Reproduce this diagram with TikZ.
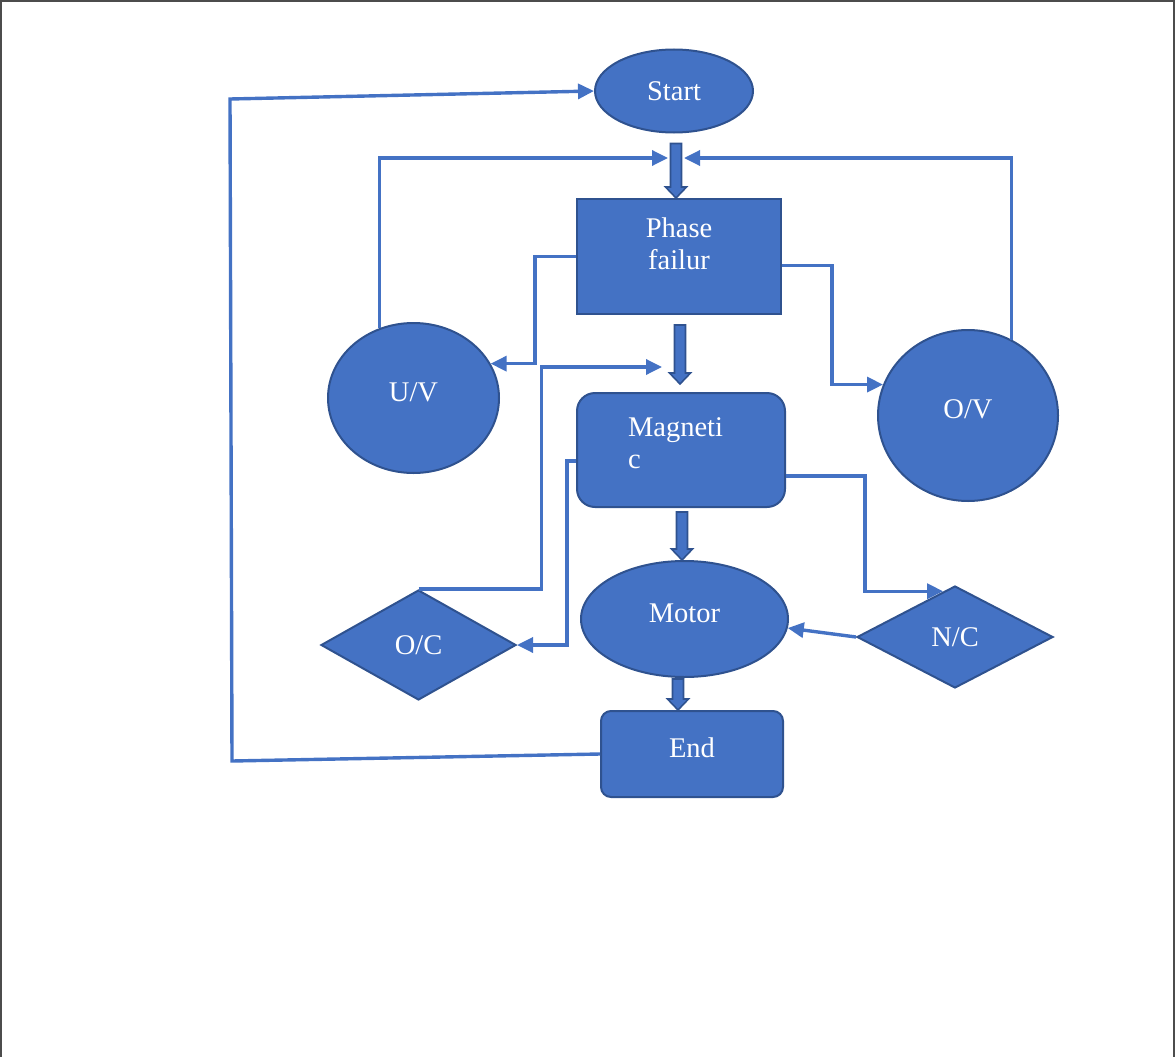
\documentclass[tikz,border=0pt]{standalone}
\usepackage{fontspec}
\setmainfont{Liberation Serif}
\usepackage{tikz}
\usetikzlibrary{arrows.meta, positioning, calc, shapes.geometric}
\definecolor{boxblue}{HTML}{4472C4}
\definecolor{edgeblue}{HTML}{2F528F}
\tikzset{
  shapebox/.style={fill=boxblue, draw=edgeblue, line width=2pt, text=white,
    font={\fontsize{28.5}{32}\selectfont}, inner sep=0pt},
  flowtext/.style={text=white, font={\fontsize{28.5}{32}\selectfont}, inner sep=0pt},
  lowtext/.style={text depth=12pt},
  link/.style={draw=boxblue, line width=3.4pt, -{Triangle[length=16pt, width=15pt]}},
  blockarr/.style={fill=boxblue, draw=edgeblue, line width=1.6pt, line join=miter}
}
% fat down arrow between two nodes: [tip gap]{source}{target}{x}{top gap}
\newcommand{\fatarrow}[5][0]{%
  \path (#4,0 |- #2.south) ++(0,#5) coordinate (fa-s) (#4,0 |- #3.north) ++(0,-#1) coordinate (fa-t);
  \draw[blockarr] ($(fa-s)+(-5.5,0)$) -- ($(fa-s)+(5.5,0)$) -- ($(fa-t)+(5.5,-11)$) -- ($(fa-t)+(10.5,-11)$)
    -- (fa-t) -- ($(fa-t)+(-10.5,-11)$) -- ($(fa-t)+(-5.5,-11)$) -- cycle;}
\begin{document}
\begin{tikzpicture}[x=1pt, y=-1pt]
  \useasboundingbox (0,0) rectangle (1175,1057);
  % Frame
  \draw[line width=1.5pt, black!70] (1,1057) -- (1,1) -- (1174,1) -- (1174,1057);
  % Nodes
  \node[shapebox, ellipse, minimum width=158, minimum height=83] (start) at (674,91) {Start};
  \node[shapebox, rectangle, minimum width=204, minimum height=115] (phase) at (679,256.5) {};
  \node[flowtext, align=center] at (679,244) {Phase\\failur};
  \node[shapebox, rectangle, rounded corners=18, minimum width=208, minimum height=114] (mag) at (681,450) {};
  \node[flowtext, align=left] at (675.5,443) {Magneti\\c};
  \node[shapebox, lowtext, ellipse, minimum width=207, minimum height=116] (motor) at (684.5,619) {Motor};
  \node[shapebox, lowtext, rectangle, rounded corners=10, minimum width=182, minimum height=86] (end) at (692,754) {End};
  \node[shapebox, lowtext, ellipse, minimum width=171, minimum height=150] (uv) at (413.5,398) {U/V};
  \node[shapebox, lowtext, ellipse, minimum width=180, minimum height=171] (ov) at (968,415.5) {O/V};
  \node[shapebox, diamond, minimum width=195, minimum height=110] (oc) at (418.5,645) {O/C};
  \node[shapebox, diamond, minimum width=196, minimum height=102] (nc) at (955,637) {N/C};
  % Free ends
  \coordinate (inl) at (668,158);
  \coordinate (inr) at (684,158);
  \coordinate (magin) at (662,367);
  \coordinate (ret1) at (232,761);
  \coordinate (ret2) at (230,99);
  % Main flow
  \fatarrow{start}{phase}{676}{10}
  \fatarrow[8]{phase}{mag}{680}{10}
  \fatarrow{mag}{motor}{682}{4}
  \fatarrow{motor}{end}{678}{1}
  % Feedback lines
  \draw[link] (uv.116) |- (inl);
  \draw[link] (ov.60) |- (inr);
  \draw[link] (phase.west) -- ++(-41,0) |- (uv.24);
  \draw[link] ($(phase.east)+(0,9)$) -- ++(50,0) |- (ov.160);
  \draw[link] (oc.north) -- ++(123,0) |- (magin);
  \draw[link] ($(mag.west)+(0,11)$) -- ++(-9,0) |- (oc.east);
  \draw[link] ($(mag.east)+(0,26)$) -- ++(79,0) |- ($(nc.north)!0.12!(nc.west)$);
  \draw[link] (nc.west) -- (motor.-5);
  \draw[link] (end.west) -- (ret1) -- (ret2) -- (start.west);
\end{tikzpicture}
\end{document}
